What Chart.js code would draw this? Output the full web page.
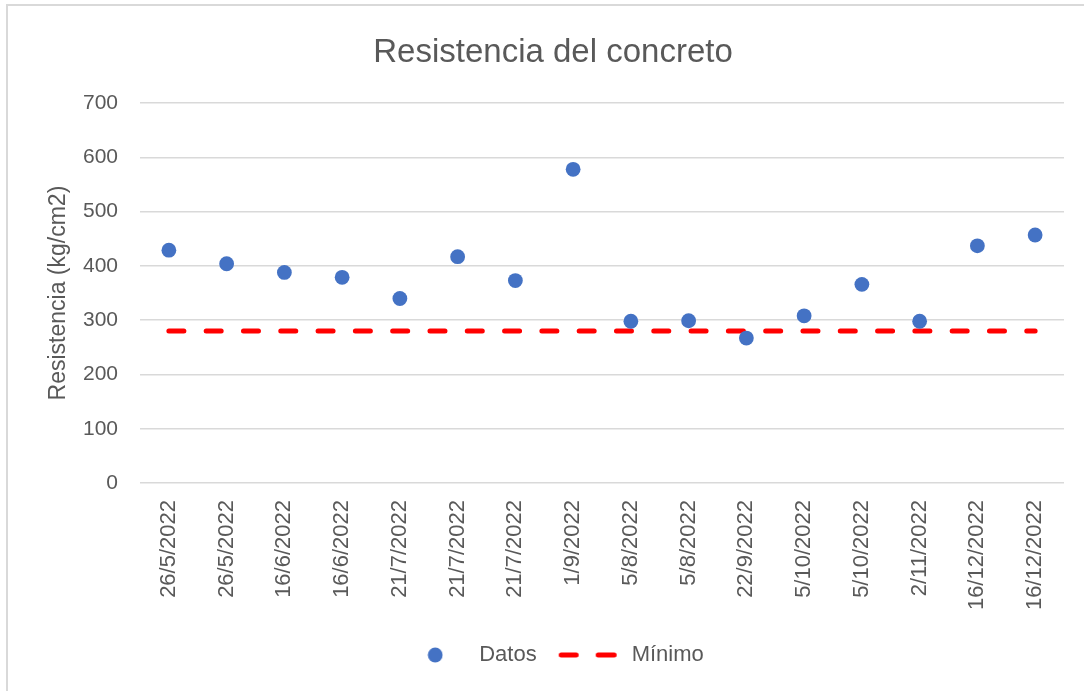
<!DOCTYPE html>
<html>
<head>
<meta charset="utf-8">
<script src="https://cdn.jsdelivr.net/npm/chart.js@4"></script>
<style>
    body { margin: 0; overflow: hidden; background: #fff; }
    #frame {
        position: absolute; left: 6px; top: 4px; width: 1200px; height: 800px;
        border-left: 2px solid #d9d9d9; border-top: 2px solid #d9d9d9;
    }
    #wrap { position: absolute; left: 0; top: 0; width: 1084px; height: 691px; }
</style>
</head>
<body>
<div id="frame"></div>
<div id="wrap"><canvas id="chart" width="1084" height="691"></canvas></div>
<script>
// --- DATA ---
const fechas = ['26/5/2022', '26/5/2022', '16/6/2022', '16/6/2022', '21/7/2022', '21/7/2022', '21/7/2022', '1/9/2022',
    '5/8/2022', '5/8/2022', '22/9/2022', '5/10/2022', '5/10/2022', '2/11/2022', '16/12/2022', '16/12/2022'];
const datos = [429, 404, 388, 379, 340, 417, 373, 578, 298, 299, 267, 308, 366, 298, 437, 457];
const minimo = [280, 280, 280, 280, 280, 280, 280, 280, 280, 280, 280, 280, 280, 280, 280, 280];
const yMin = 0;
const yMax = 700;
const yStep = 100;

const gray = '#595959';
const blue = '#4472C4';
const red = '#FF0000';

// legend icons
const circleIcon = document.createElement('canvas');
circleIcon.width = 16; circleIcon.height = 16;
(() => {
    const c = circleIcon.getContext('2d');
    c.fillStyle = blue;
    c.beginPath();
    c.arc(8, 8, 7.4, 0, Math.PI * 2);
    c.fill();
})();

const dashIcon = document.createElement('canvas');
dashIcon.width = 60; dashIcon.height = 8;
(() => {
    const c = dashIcon.getContext('2d');
    c.strokeStyle = red;
    c.lineWidth = 5;
    c.lineCap = 'round';
    c.beginPath();
    c.moveTo(3.5, 4); c.lineTo(18.5, 4);
    c.moveTo(40.5, 4); c.lineTo(56.5, 4);
    c.stroke();
})();

new Chart(document.getElementById('chart'), {
    type: 'line',
    data: {
        labels: fechas,
        datasets: [{
            label: 'Datos',
            data: datos,
            showLine: false,
            pointRadius: 7.4,
            pointHoverRadius: 7.4,
            pointBorderWidth: 0,
            pointBackgroundColor: blue,
            backgroundColor: blue,
            borderColor: blue
        }, {
            label: 'Mínimo',
            data: minimo,
            borderColor: red,
            backgroundColor: red,
            borderWidth: 5,
            borderDash: [15, 22.3],
            borderCapStyle: 'round',
            pointRadius: 0,
            fill: false
        }]
    },
    options: {
        responsive: false,
        animation: false,
        layout: { padding: { top: 33, left: 42, right: 20, bottom: 15 } },
        plugins: {
            title: {
                display: true,
                text: 'Resistencia del concreto',
                color: gray,
                font: { family: 'Liberation Sans', size: 33, weight: 'normal' },
                padding: { top: 0, bottom: 30.5 }
            },
            legend: {
                position: 'bottom',
                labels: {
                    usePointStyle: true,
                    pointStyleWidth: 66,
                    padding: 18,
                    color: gray,
                    font: { family: 'Liberation Sans', size: 22 },
                    generateLabels: chart => {
                        const items = Chart.defaults.plugins.legend.labels.generateLabels(chart);
                        items[0].pointStyle = circleIcon;
                        items[1].pointStyle = dashIcon;
                        return items;
                    }
                }
            },
            tooltip: { enabled: false }
        },
        scales: {
            x: {
                offset: true,
                grid: { display: false, drawTicks: false },
                border: { display: false },
                ticks: {
                    autoSkip: false,
                    minRotation: 90,
                    maxRotation: 90,
                    padding: 17,
                    color: gray,
                    font: { family: 'Liberation Sans', size: 22 }
                },
                afterFit: scale => { scale.height = 143; }
            },
            y: {
                min: yMin,
                max: yMax,
                ticks: {
                    stepSize: yStep,
                    padding: 22,
                    color: gray,
                    font: { family: 'Liberation Sans', size: 21 }
                },
                grid: { color: '#d9d9d9', lineWidth: 1.5, drawTicks: false },
                border: { display: false },
                title: {
                    display: true,
                    text: 'Resistencia (kg/cm2)',
                    color: gray,
                    font: { family: 'Liberation Sans', size: 23 },
                    padding: { top: 3, bottom: 0 }
                },
                afterFit: scale => { scale.width = 98; }
            }
        }
    }
});
</script>
</body>
</html>
